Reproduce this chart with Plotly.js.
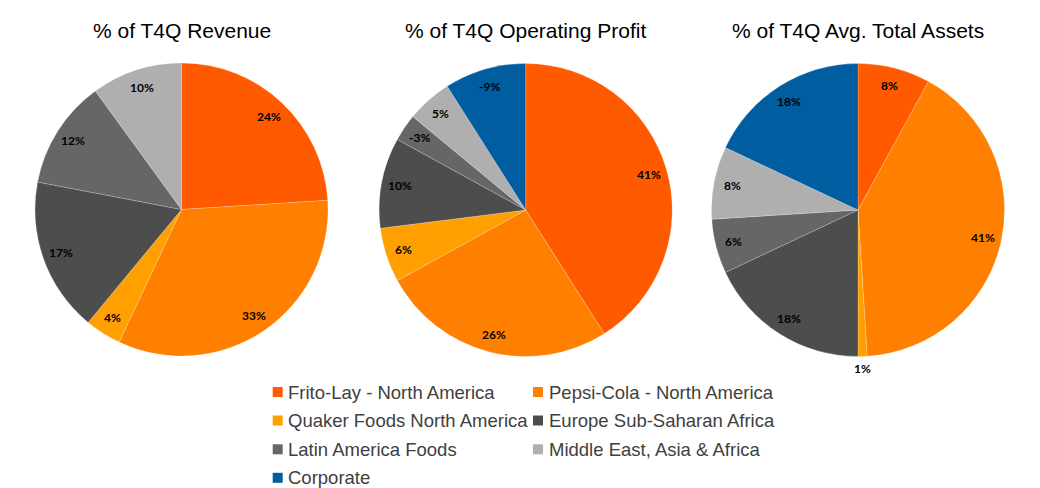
<!DOCTYPE html>
<html><head><meta charset="utf-8">
<script src="https://cdn.plot.ly/plotly-3.0.1.min.js"></script>
<style>html,body{margin:0;padding:0;background:#fff}#chart{width:1040px;height:488px}</style>
</head><body><div id="chart"></div>
<script>
// ---- data ----
const categories = ["Frito-Lay - North America","Pepsi-Cola - North America","Quaker Foods North America","Europe Sub-Saharan Africa","Latin America Foods","Middle East, Asia & Africa","Corporate"];
const chartTitles = ["% of T4Q Revenue","% of T4Q Operating Profit","% of T4Q Avg. Total Assets"];
const revenue = [24, 33, 4, 17, 12, 10];
const operatingProfit = [41, 26, 6, 10, -3, 5, -9];
const totalAssets = [8, 41, 1, 18, 6, 8, 18];
const series = [revenue, operatingProfit, totalAssets];

// ---- style / geometry ----
const colors = ["#FF5A00","#FF8000","#FFA000","#4D4D4D","#666666","#AFAFAF","#005DA0"];
const W = 1040, H = 488;
const centers = [[181.5, 209.5], [525.7, 210], [858, 210]];
const R = 146.5;
const px = x => x / W, py = y => 1 - y / H;

const data = [], annotations = [], shapes = [];
series.forEach((vals, k) => {
  const [cx, cy] = centers[k];
  const labels = categories.slice(0, vals.length);
  const abs = vals.map(v => Math.abs(v));
  data.push({
    type: 'pie', labels: labels, values: abs, sort: false, direction: 'clockwise', rotation: 0,
    marker: {colors: colors.slice(0, vals.length), line: {color: 'rgba(255,255,255,0.5)', width: 0.4}},
    textinfo: 'none', hoverinfo: 'label+percent', showlegend: false,
    domain: {x: [px(cx - R), px(cx + R)], y: [py(cy + R), py(cy - R)]}
  });
  const total = abs.reduce((a, b) => a + b, 0);
  let cum = 0;
  vals.forEach((v, i) => {
    const mid = (cum + Math.abs(v) / 2) / total * 2 * Math.PI;
    cum += Math.abs(v);
    const r = Math.abs(v) < 2 ? R * 1.08 : R * 0.875;
    annotations.push({
      xref: 'paper', yref: 'paper', x: px(cx + r * Math.sin(mid)), y: py(cy - r * Math.cos(mid)),
      xanchor: 'center', yanchor: 'middle', showarrow: false,
      text: '<b>' + v + '%</b>', font: {family: 'Lato, "Liberation Sans", sans-serif', size: 12, color: '#000'}
    });
  });
  annotations.push({
    xref: 'paper', yref: 'paper', x: px(cx), y: py(30), xanchor: 'center', yanchor: 'middle', showarrow: false,
    text: chartTitles[k], font: {family: '"Liberation Sans", Arial, sans-serif', size: 21, color: '#000'}
  });
});

// ---- legend (two columns) ----
const colX = [272.7, 533];
const rowY = [392, 420.5, 449.3, 477.8];
categories.forEach((c, i) => {
  const x0 = colX[i % 2], yc = rowY[Math.floor(i / 2)];
  shapes.push({type: 'rect', xref: 'paper', yref: 'paper', x0: px(x0), x1: px(x0 + 10), y0: py(yc + 5), y1: py(yc - 5),
    fillcolor: colors[i], line: {width: 0}});
  annotations.push({xref: 'paper', yref: 'paper', x: px(x0 + 13.5), y: py(yc), xanchor: 'left', yanchor: 'middle',
    showarrow: false, text: c, font: {family: '"Liberation Sans", Arial, sans-serif', size: 18.5, color: '#404040'}});
});

Plotly.newPlot('chart', data, {
  width: W, height: H, margin: {l: 0, r: 0, t: 0, b: 0},
  paper_bgcolor: '#fff', plot_bgcolor: '#fff', showlegend: false,
  annotations: annotations, shapes: shapes
}, {staticPlot: true});
</script></body></html>
